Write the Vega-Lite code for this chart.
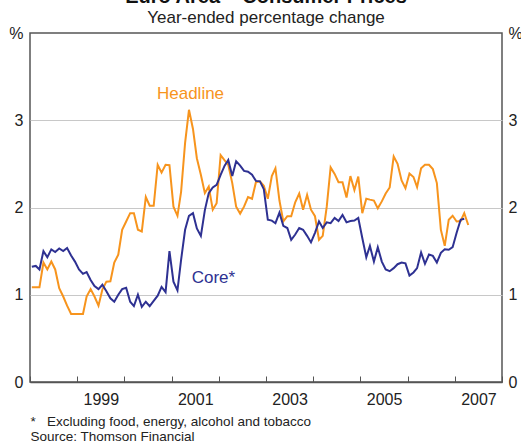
{
  "$schema": "https://vega.github.io/schema/vega-lite/v6.json",
  "width": 472,
  "height": 349,
  "autosize": {"type": "none"},
  "padding": {"left": 30, "top": 33, "right": 19, "bottom": 60},
  "background": "white",
  "config": {
    "font": "Liberation Sans",
    "view": {"stroke": "#555", "strokeWidth": 1.5}
  },
  "title": {
    "text": "Euro Area – Consumer Prices",
    "subtitle": "Year-ended percentage change",
    "anchor": "middle",
    "fontSize": 20,
    "fontWeight": "bold",
    "color": "#111",
    "subtitleFontSize": 17,
    "subtitleColor": "#222",
    "offset": -1,
    "subtitlePadding": 3
  },
  "datasets": {
    "cpi": [
      {"d": "1998-01-15", "h": 1.085, "c": 1.32},
      {"d": "1998-02-15", "h": 1.085, "c": 1.33},
      {"d": "1998-03-15", "h": 1.085, "c": 1.29},
      {"d": "1998-04-15", "h": 1.37, "c": 1.5},
      {"d": "1998-05-15", "h": 1.29, "c": 1.43},
      {"d": "1998-06-15", "h": 1.38, "c": 1.52},
      {"d": "1998-07-15", "h": 1.29, "c": 1.49},
      {"d": "1998-08-15", "h": 1.075, "c": 1.53},
      {"d": "1998-09-15", "h": 0.98, "c": 1.5},
      {"d": "1998-10-15", "h": 0.875, "c": 1.535},
      {"d": "1998-11-15", "h": 0.78, "c": 1.45},
      {"d": "1998-12-15", "h": 0.78, "c": 1.38},
      {"d": "1999-01-15", "h": 0.78, "c": 1.29},
      {"d": "1999-02-15", "h": 0.78, "c": 1.24},
      {"d": "1999-03-15", "h": 0.98, "c": 1.26},
      {"d": "1999-04-15", "h": 1.065, "c": 1.17},
      {"d": "1999-05-15", "h": 0.98, "c": 1.1},
      {"d": "1999-06-15", "h": 0.875, "c": 1.065},
      {"d": "1999-07-15", "h": 1.06, "c": 1.115},
      {"d": "1999-08-15", "h": 1.15, "c": 1.04},
      {"d": "1999-09-15", "h": 1.155, "c": 0.96},
      {"d": "1999-10-15", "h": 1.37, "c": 0.92},
      {"d": "1999-11-15", "h": 1.46, "c": 1.0},
      {"d": "1999-12-15", "h": 1.745, "c": 1.065},
      {"d": "2000-01-15", "h": 1.84, "c": 1.08},
      {"d": "2000-02-15", "h": 1.935, "c": 0.92},
      {"d": "2000-03-15", "h": 1.935, "c": 0.87},
      {"d": "2000-04-15", "h": 1.745, "c": 1.0},
      {"d": "2000-05-15", "h": 1.725, "c": 0.86},
      {"d": "2000-06-15", "h": 2.12, "c": 0.92},
      {"d": "2000-07-15", "h": 2.02, "c": 0.87},
      {"d": "2000-08-15", "h": 2.02, "c": 0.93},
      {"d": "2000-09-15", "h": 2.49, "c": 0.99},
      {"d": "2000-10-15", "h": 2.4, "c": 1.09},
      {"d": "2000-11-15", "h": 2.49, "c": 1.03},
      {"d": "2000-12-15", "h": 2.485, "c": 1.5},
      {"d": "2001-01-15", "h": 2.01, "c": 1.15},
      {"d": "2001-02-15", "h": 1.905, "c": 1.05},
      {"d": "2001-03-15", "h": 2.18, "c": 1.4},
      {"d": "2001-04-15", "h": 2.74, "c": 1.745},
      {"d": "2001-05-15", "h": 3.12, "c": 1.905},
      {"d": "2001-06-15", "h": 2.9, "c": 1.935},
      {"d": "2001-07-15", "h": 2.565, "c": 1.76},
      {"d": "2001-08-15", "h": 2.375, "c": 1.675},
      {"d": "2001-09-15", "h": 2.165, "c": 1.97},
      {"d": "2001-10-15", "h": 2.24, "c": 2.165},
      {"d": "2001-11-15", "h": 1.975, "c": 2.23},
      {"d": "2001-12-15", "h": 2.05, "c": 2.26},
      {"d": "2002-01-15", "h": 2.6, "c": 2.375},
      {"d": "2002-02-15", "h": 2.54, "c": 2.48},
      {"d": "2002-03-15", "h": 2.49, "c": 2.545},
      {"d": "2002-04-15", "h": 2.28, "c": 2.36},
      {"d": "2002-05-15", "h": 2.01, "c": 2.53},
      {"d": "2002-06-15", "h": 1.93, "c": 2.48},
      {"d": "2002-07-15", "h": 2.01, "c": 2.42},
      {"d": "2002-08-15", "h": 2.12, "c": 2.41},
      {"d": "2002-09-15", "h": 2.1, "c": 2.375},
      {"d": "2002-10-15", "h": 2.29, "c": 2.305},
      {"d": "2002-11-15", "h": 2.3, "c": 2.3},
      {"d": "2002-12-15", "h": 2.25, "c": 2.21},
      {"d": "2003-01-15", "h": 2.1, "c": 1.86},
      {"d": "2003-02-15", "h": 2.36, "c": 1.85},
      {"d": "2003-03-15", "h": 2.45, "c": 1.82},
      {"d": "2003-04-15", "h": 2.08, "c": 1.94},
      {"d": "2003-05-15", "h": 1.84, "c": 1.79},
      {"d": "2003-06-15", "h": 1.9, "c": 1.765},
      {"d": "2003-07-15", "h": 1.9, "c": 1.63},
      {"d": "2003-08-15", "h": 2.06, "c": 1.69},
      {"d": "2003-09-15", "h": 2.16, "c": 1.765},
      {"d": "2003-10-15", "h": 1.975, "c": 1.745},
      {"d": "2003-11-15", "h": 2.145, "c": 1.675},
      {"d": "2003-12-15", "h": 1.975, "c": 1.6},
      {"d": "2004-01-15", "h": 1.9, "c": 1.71},
      {"d": "2004-02-15", "h": 1.63, "c": 1.84},
      {"d": "2004-03-15", "h": 1.675, "c": 1.765},
      {"d": "2004-04-15", "h": 2.01, "c": 1.83},
      {"d": "2004-05-15", "h": 2.46, "c": 1.82},
      {"d": "2004-06-15", "h": 2.385, "c": 1.88},
      {"d": "2004-07-15", "h": 2.29, "c": 1.845},
      {"d": "2004-08-15", "h": 2.29, "c": 1.915},
      {"d": "2004-09-15", "h": 2.115, "c": 1.83},
      {"d": "2004-10-15", "h": 2.36, "c": 1.845},
      {"d": "2004-11-15", "h": 2.2, "c": 1.85},
      {"d": "2004-12-15", "h": 2.355, "c": 1.88},
      {"d": "2005-01-15", "h": 1.935, "c": 1.65},
      {"d": "2005-02-15", "h": 2.1, "c": 1.43},
      {"d": "2005-03-15", "h": 2.09, "c": 1.56},
      {"d": "2005-04-15", "h": 2.08, "c": 1.38},
      {"d": "2005-05-15", "h": 1.99, "c": 1.545},
      {"d": "2005-06-15", "h": 2.07, "c": 1.38},
      {"d": "2005-07-15", "h": 2.16, "c": 1.29},
      {"d": "2005-08-15", "h": 2.23, "c": 1.27},
      {"d": "2005-09-15", "h": 2.585, "c": 1.305},
      {"d": "2005-10-15", "h": 2.5, "c": 1.35},
      {"d": "2005-11-15", "h": 2.31, "c": 1.37},
      {"d": "2005-12-15", "h": 2.22, "c": 1.36},
      {"d": "2006-01-15", "h": 2.39, "c": 1.22},
      {"d": "2006-02-15", "h": 2.35, "c": 1.255},
      {"d": "2006-03-15", "h": 2.235, "c": 1.305},
      {"d": "2006-04-15", "h": 2.45, "c": 1.485},
      {"d": "2006-05-15", "h": 2.49, "c": 1.355},
      {"d": "2006-06-15", "h": 2.49, "c": 1.46},
      {"d": "2006-07-15", "h": 2.44, "c": 1.445},
      {"d": "2006-08-15", "h": 2.28, "c": 1.37},
      {"d": "2006-09-15", "h": 1.745, "c": 1.48},
      {"d": "2006-10-15", "h": 1.56, "c": 1.52},
      {"d": "2006-11-15", "h": 1.86, "c": 1.515},
      {"d": "2006-12-15", "h": 1.905, "c": 1.545},
      {"d": "2007-01-15", "h": 1.84, "c": 1.71},
      {"d": "2007-02-15", "h": 1.845, "c": 1.86},
      {"d": "2007-03-15", "h": 1.935, "c": 1.87},
      {"d": "2007-04-15", "h": 1.8, "c": null}
    ],
    "labels": [
      {"d": "2001-05-27", "v": 3.3, "t": "Headline"},
      {"d": "2001-11-20", "v": 1.19, "t": "Core*"}
    ]
  },
  "encoding": {
    "x": {
      "field": "d",
      "type": "temporal",
      "scale": {
        "type": "utc",
        "domain": [
          {"year": 1998, "month": 1, "date": 1, "utc": true},
          {"year": 2008, "month": 1, "date": 1, "utc": true}
        ]
      },
      "axis": {
        "title": ["*\u00a0\u00a0\u00a0Excluding food, energy, alcohol and tobacco", "Source: Thomson Financial"],
        "titleFontSize": 13.5,
        "titleFontWeight": "normal",
        "titleColor": "#222",
        "titleAlign": "left",
        "titleAnchor": "start",
        "titleBaseline": "top",
        "titleX": 0,
        "titleY": 32,
        "titleLineHeight": 15,
        "tickCount": {"interval": "year", "step": 1},
        "tickSize": -6,
        "tickColor": "#555",
        "tickWidth": 1,
        "labelExpr": "utcyear(datum.value) % 2 == 1 ? utcFormat(datum.value, '%Y') : ''",
        "labelOffset": 23.6,
        "labelPadding": 15,
        "labelFontSize": 16,
        "labelColor": "#222",
        "labelFlush": false,
        "labelOverlap": false,
        "labelBound": false,
        "grid": false,
        "domainColor": "#555",
        "domainWidth": 1.5
      }
    }
  },
  "layer": [
    {
      "data": {"name": "cpi"},
      "mark": {"type": "line", "color": "#F7941D", "strokeWidth": 2},
      "encoding": {
        "y": {
          "field": "h",
          "type": "quantitative",
          "scale": {"domain": [0, 4], "nice": false},
          "axis": {
            "orient": "left",
            "title": null,
            "values": [0, 1, 2, 3, 4],
            "labelExpr": "datum.value == 4 ? '%' : datum.label",
            "ticks": false,
            "domain": false,
            "grid": true,
            "gridColor": {"condition": {"test": "datum.value == 0 || datum.value == 4", "value": "transparent"}, "value": "#c8c8c8"},
            "gridWidth": 1,
            "labelPadding": 7,
            "labelFontSize": 16,
            "labelColor": "#222"
          }
        }
      }
    },
    {
      "data": {"name": "cpi"},
      "mark": {"type": "line", "color": "#2E3192", "strokeWidth": 2},
      "encoding": {
        "y": {
          "field": "c",
          "type": "quantitative",
          "axis": {
            "orient": "right",
            "title": null,
            "values": [0, 1, 2, 3, 4],
            "labelExpr": "datum.value == 4 ? '%' : datum.label",
            "ticks": false,
            "domain": false,
            "grid": false,
            "labelPadding": 6,
            "labelFontSize": 16,
            "labelColor": "#222"
          }
        }
      }
    },
    {
      "data": {"name": "labels"},
      "mark": {"type": "text", "fontSize": 17, "align": "center", "baseline": "middle"},
      "encoding": {
        "y": {"field": "v", "type": "quantitative", "axis": null},
        "text": {"field": "t"},
        "color": {
          "field": "t",
          "type": "nominal",
          "scale": {"domain": ["Headline", "Core*"], "range": ["#F7941D", "#2E3192"]},
          "legend": null
        }
      }
    }
  ],
  "resolve": {"axis": {"y": "independent"}}
}
